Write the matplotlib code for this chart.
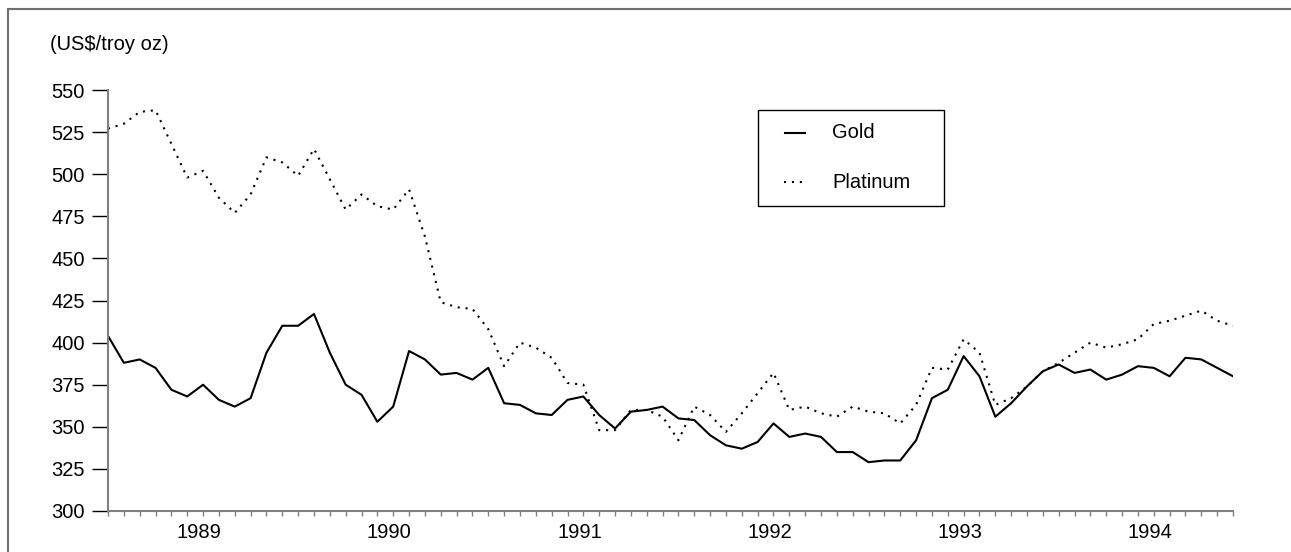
import numpy as np
import matplotlib.pyplot as plt
from matplotlib.lines import Line2D
from matplotlib.patches import Rectangle

plt.rcParams['font.family'] = ['Liberation Sans', 'DejaVu Sans']

# monthly prices, Jan 1989 .. Dec 1994 (US$/troy oz)
years = ['1989', '1990', '1991', '1992', '1993', '1994']

gold = [404, 388, 390, 385, 372, 368, 375, 366, 362, 367, 394, 410,
        410, 417, 394, 375, 369, 353, 362, 395, 390, 381, 382, 378,
        385, 364, 363, 358, 357, 366, 368, 357, 349, 359, 360, 362,
        355, 354, 345, 339, 337, 341, 352, 344, 346, 344, 335, 335,
        329, 330, 330, 342, 367, 372, 392, 380, 356, 364, 374, 383,
        387, 382, 384, 378, 381, 386, 385, 380, 391, 390, 385, 380]

platinum = [527, 530, 537, 538, 518, 498, 502, 486, 477, 488, 510, 507,
            499, 515, 497, 479, 488, 481, 479, 491, 463, 424, 421, 420,
            408, 386, 400, 397, 391, 376, 375, 348, 348, 360, 360, 356,
            342, 362, 357, 347, 358, 370, 382, 360, 362, 358, 356, 362,
            359, 358, 352, 363, 385, 384, 402, 394, 363, 367, 374, 383,
            388, 394, 400, 397, 399, 402, 411, 413, 416, 419, 413, 410]

x = np.arange(len(gold))
fs = 14.5
W, H = 1291, 552
dots = (0, (1, 2.8))

def fx(px):  # pixel -> figure fraction
    return px / W

def fy(py):
    return 1 - py / H

fig = plt.figure(figsize=(12.91, 5.52), dpi=100)
ax = fig.add_axes([fx(108), 41/H, 1125/W, 421/H])

ax.plot(x, gold, color='black', lw=1.5)
ax.plot(x, platinum, color='black', lw=1.5, linestyle=dots)

ax.set_xlim(0, 71)
ax.set_ylim(300, 550)
ax.set_yticks(np.arange(300, 551, 25))
ax.tick_params(axis='y', direction='out', length=11.5, width=1, color='black',
               labelsize=fs, pad=5)

# month ticks + long year separators
ax.set_xticks(np.arange(0, 72))
ax.set_xticklabels([])
ax.tick_params(axis='x', which='major', direction='out', length=3.6, width=1, color='#808080')
ax.set_xticks(np.arange(12, 72, 12), minor=True)
ax.tick_params(axis='x', which='minor', direction='out', length=23, width=1.2, color='#808080')
for i, yr in enumerate(years):
    ax.text(12*i + 5.75, -0.052, yr, transform=ax.get_xaxis_transform(),
            ha='center', va='center', fontsize=fs)

for s in ['top', 'right']:
    ax.spines[s].set_visible(False)
for s in ['left', 'bottom']:
    ax.spines[s].set_color('#808080')
    ax.spines[s].set_linewidth(1.5)

fig.text(fx(50), fy(45), '(US$/troy oz)', ha='left', va='center', fontsize=fs)

# legend box drawn by hand
fig.add_artist(Rectangle((fx(758), fy(206)), fx(944) - fx(758), fy(110) - fy(206),
                         transform=fig.transFigure, facecolor='white',
                         edgecolor='black', lw=1))
fig.add_artist(Line2D([fx(785), fx(805)], [fy(133), fy(133)], transform=fig.transFigure,
                      color='black', lw=1.5))
fig.add_artist(Line2D([fx(784), fx(806)], [fy(182), fy(182)], transform=fig.transFigure,
                      color='black', lw=1.5, linestyle=dots))
fig.text(fx(832), fy(133), 'Gold', ha='left', va='center', fontsize=fs)
fig.text(fx(832), fy(182), 'Platinum', ha='left', va='center', fontsize=fs)

# outer frame: only top and left edges
fig.add_artist(Line2D([fx(8), 1], [fy(9), fy(9)], transform=fig.transFigure,
                      color='#707070', lw=1.5))
fig.add_artist(Line2D([fx(8), fx(8)], [0, fy(9)], transform=fig.transFigure,
                      color='#707070', lw=1.5))

fig.savefig('out.png', dpi=100)
